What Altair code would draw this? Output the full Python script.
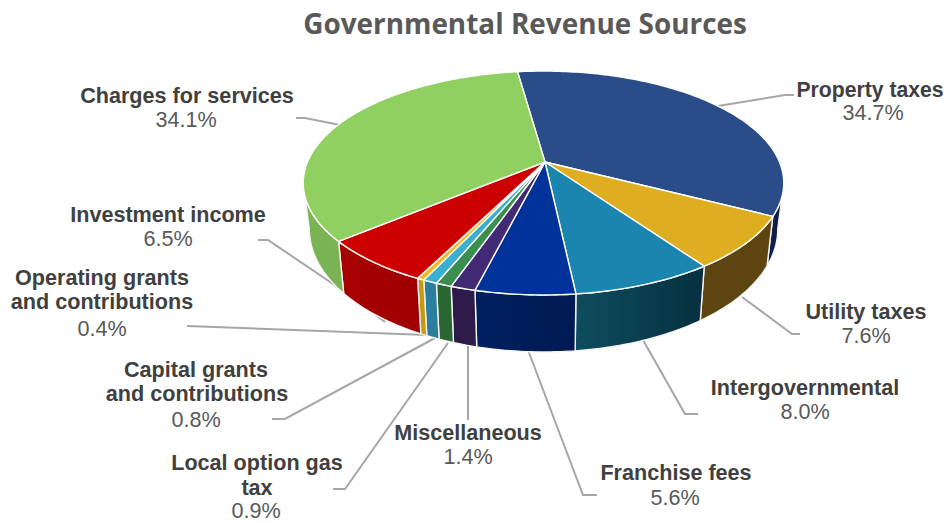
import math
import altair as alt
import pandas as pd

# ---- chart values -------------------------------------------------------
categories = ["Property taxes", "Utility taxes", "Intergovernmental", "Franchise fees",
              "Miscellaneous", "Local option gas tax", "Capital grants and contributions",
              "Operating grants and contributions", "Investment income", "Charges for services"]
shares = [34.7, 7.6, 8.0, 5.6, 1.4, 0.9, 0.8, 0.4, 6.5, 34.1]
top_colors = ["#2A4D8A", "#DFAE20", "#1A85AE", "#003399", "#432A75",
              "#3A8F4F", "#3BAFD0", "#F2B81A", "#CC0000", "#8FD060"]
wall_colors = [("#0F2050", "#0B1A45"), ("#5C4510", "#5C4510"), ("#0E4D5E", "#06303F"),
               ("#00205F", "#001A55"), ("#2E1B4A", "#2E1B4A"), ("#2A6632", "#2A6632"),
               ("#2C7E9F", "#2C7E9F"), ("#C49A10", "#C49A10"), ("#A80000", "#A00000"),
               ("#79B354", "#79B354")]

# label text: lines (text, bold), placed per label
label_lines = [
    ("Property taxes", True, 870, 91, 21.2), ("34.7%", False, 873, 114, 21.6),
    ("Utility taxes", True, 866, 313, 21.6), ("7.6%", False, 866, 337, 21.6),
    ("Intergovernmental", True, 805, 389, 21.6), ("8.0%", False, 805, 413, 21.6),
    ("Franchise fees", True, 676, 474, 21.6), ("5.6%", False, 675, 499, 21.6),
    ("Miscellaneous", True, 468, 434, 21.6), ("1.4%", False, 468, 458, 21.6),
    ("Local option gas", True, 257, 464, 21.6), ("tax", True, 257, 489, 21.6), ("0.9%", False, 256, 512, 21.6),
    ("Capital grants", True, 196, 371, 21.6), ("and contributions", True, 197, 395, 21.6), ("0.8%", False, 196, 421, 21.6),
    ("Operating grants", True, 102, 279, 21.6), ("and contributions", True, 102, 303, 21.6), ("0.4%", False, 102, 330, 21.6),
    ("Investment income", True, 168, 216, 21.6), ("6.5%", False, 168, 240, 21.6),
    ("Charges for services", True, 187, 97, 21.6), ("34.1%", False, 186, 121, 21.6),
]
leaders = [
    [(718, 106), (785, 95), (794, 95)],
    [(742, 297), (792, 334), (800, 334)],
    [(643, 340), (685, 414), (698, 414)],
    [(528, 350), (583, 495), (597, 495)],
    [(468, 344), (468, 420)],
    [(448, 343), (345, 489), (333, 489)],
    [(435, 338), (285, 419), (272, 419)],
    [(427, 335), (187, 326)],
    [(385, 322), (345, 292), (268, 240), (258, 240)],
    [(340, 125), (305, 118), (296, 118)],
]

# ---- projection of the tilted disc --------------------------------------
CX, CY, A, B, P = 545, 162, 236, 108, 0.1876
RIM_SHIFT = -1.5
START = -7.5
SILHOUETTE = math.degrees(math.acos(-P))

def top_pt(a):
    r = math.radians(a)
    d = 1 + P * math.cos(r)
    return CX + RIM_SHIFT + A * math.sin(r) / d, CY - B * math.cos(r) / d

def bottom_pt(a):
    r = math.radians(a)
    x, y = top_pt(a)
    return CX + (x - CX) * 0.975, y + 43 + 14 * max(0, -math.cos(r))

def sweep(a1, a2, step=1.0):
    n = max(2, int(abs(a2 - a1) / step) + 1)
    return [a1 + (a2 - a1) * i / (n - 1) for i in range(n)]

X = alt.X("x:Q", scale=alt.Scale(domain=[8, 944]), axis=None)
Y = alt.Y("y:Q", scale=alt.Scale(domain=[8, 523], reverse=True), axis=None)
layers = []

def polygon(pts):
    return pd.DataFrame([{"x": x, "y": y, "i": i} for i, (x, y) in enumerate(pts + pts[:1])])

# leader lines
for ld in leaders:
    df = pd.DataFrame([{"x": x, "y": y, "i": i} for i, (x, y) in enumerate(ld)])
    layers.append(alt.Chart(df).mark_line(color="#A6A6A6", strokeWidth=2).encode(x=X, y=Y, order="i:Q"))

# walls, then top face
cum = 0
spans = []
for s in shares:
    a1 = START + cum * 3.6
    cum += s
    spans.append((a1, START + cum * 3.6))

for (a1, a2), (c1, c2) in zip(spans, wall_colors):
    lo, hi = max(a1, SILHOUETTE), min(a2, 360 - SILHOUETTE)
    if hi <= lo:
        continue
    angs = sweep(lo, hi)
    pts = [top_pt(a) for a in angs] + [bottom_pt(a) for a in reversed(angs)]
    fill = alt.LinearGradient(gradient="linear", x1=0, x2=1, y1=0, y2=0,
                              stops=[alt.GradientStop(color=c1, offset=0), alt.GradientStop(color=c2, offset=1)])
    layers.append(alt.Chart(polygon(pts)).mark_line(fill=fill, stroke="#F4F4F4", strokeWidth=1.4, strokeJoin="round")
                  .encode(x=X, y=Y, order="i:Q"))

for (a1, a2), c in zip(spans, top_colors):
    pts = [(CX, CY)] + [top_pt(a) for a in sweep(a1, a2)]
    layers.append(alt.Chart(polygon(pts)).mark_line(fill=c, stroke="#FFFFFF", strokeWidth=1.4, strokeJoin="round")
                  .encode(x=X, y=Y, order="i:Q"))

# text
labels = pd.DataFrame([{"t": t, "b": b, "x": x, "y": y, "s": s} for t, b, x, y, s in label_lines])
layers.append(alt.Chart(labels[labels.b]).mark_text(font="Liberation Sans", fontWeight="bold",
                                                    color="#404040", align="center", baseline="middle")
              .encode(x=X, y=Y, text="t:N", size=alt.Size("s:Q", scale=None)))
layers.append(alt.Chart(labels[~labels.b]).mark_text(font="Liberation Sans",
                                                     color="#595959", align="center", baseline="middle")
              .encode(x=X, y=Y, text="t:N", size=alt.Size("s:Q", scale=None)))
title = pd.DataFrame([{"t": "Governmental Revenue Sources", "x": 525, "y": 25.5}])
layers.append(alt.Chart(title).mark_text(font="Open Sans", fontWeight="bold", fontSize=27.9,
                                         color="#595959", align="center", baseline="middle")
              .encode(x=X, y=Y, text="t:N"))

chart = alt.layer(*layers).properties(width=936, height=515, padding=0, autosize="none",
                                      background="white").configure_view(stroke=None)
chart.save("out.html", embed_options={"renderer": "svg", "actions": False})
